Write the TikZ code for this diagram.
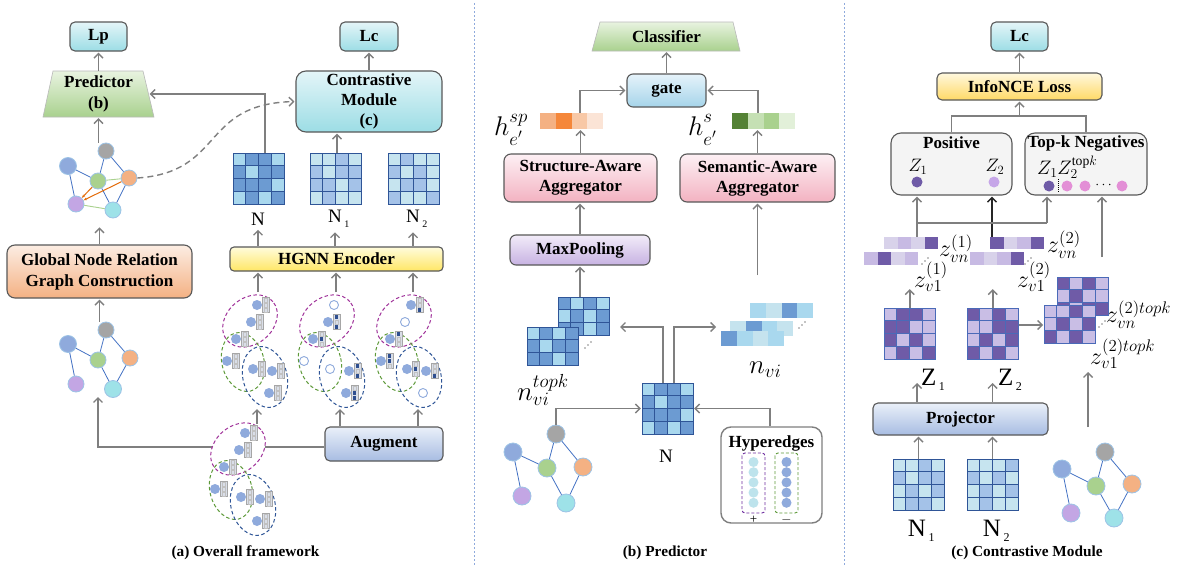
\documentclass[tikz,border=0pt]{standalone}
\usepackage{fix-cm}
\usepackage{fontspec}
\setmainfont{Liberation Serif}
\usetikzlibrary{arrows.meta,calc}
\definecolor{cAg}{HTML}{7F7F7F}
\definecolor{cBdr}{HTML}{595959}
\definecolor{cCyT}{HTML}{E4F5F8}
\definecolor{cCyB}{HTML}{9CDDE5}
\definecolor{cGrT}{HTML}{E8F3E0}
\definecolor{cGrB}{HTML}{A9D18E}
\definecolor{cOrT}{HTML}{FCEDE3}
\definecolor{cOrB}{HTML}{F4B183}
\definecolor{cYeT}{HTML}{FFFCDC}
\definecolor{cYeB}{HTML}{FFE665}
\definecolor{cBlT}{HTML}{EAF0F9}
\definecolor{cBlB}{HTML}{A7BCE2}
\definecolor{cGaT}{HTML}{E6F3FA}
\definecolor{cGaB}{HTML}{A5D4EA}
\definecolor{cPkT}{HTML}{FDF0F4}
\definecolor{cPkB}{HTML}{F3B2C1}
\definecolor{cPuT}{HTML}{F2ECF9}
\definecolor{cPuB}{HTML}{C7B2E2}
\definecolor{cInT}{HTML}{FFF8DE}
\definecolor{cInB}{HTML}{FFD966}
\definecolor{cPanel}{HTML}{F4F4F4}
\definecolor{cSep}{HTML}{8FAADC}
\definecolor{cNblue}{HTML}{8FAADC}
\definecolor{cNgray}{HTML}{A5A5A5}
\definecolor{cNgreen}{HTML}{A9D18E}
\definecolor{cNorange}{HTML}{F4B183}
\definecolor{cNpurple}{HTML}{C3A6E4}
\definecolor{cNcyan}{HTML}{9EE2E8}
\definecolor{cNbdr}{HTML}{9DC3E6}
\definecolor{cEdge}{HTML}{4472C4}
\definecolor{cEdgeG}{HTML}{A9D18E}
\definecolor{cEdgeO}{HTML}{E46C0A}
\definecolor{cMbdr}{HTML}{2F5597}
\definecolor{cMlt}{HTML}{A9D8EE}
\definecolor{cMmid}{HTML}{6C9BD2}
\definecolor{cNlt}{HTML}{C6E4EF}
\definecolor{cNmid}{HTML}{A4C2E8}
\definecolor{cVlt}{HTML}{C5E3EE}
\definecolor{cZdk}{HTML}{6F5BA7}
\definecolor{cZlt}{HTML}{C9BEE5}
\definecolor{cZl}{HTML}{D8D2EA}
\definecolor{cZm}{HTML}{C7BAE3}
\definecolor{cZbdr}{HTML}{4A6AB8}
\definecolor{cOa}{HTML}{F4B183}
\definecolor{cOb}{HTML}{F5873A}
\definecolor{cOc}{HTML}{F8C8A6}
\definecolor{cOd}{HTML}{FBE4D6}
\definecolor{cGa}{HTML}{548235}
\definecolor{cGb}{HTML}{C5E0B4}
\definecolor{cGc}{HTML}{A9D18E}
\definecolor{cGd}{HTML}{E2F0D9}
\definecolor{cHmag}{HTML}{A0329A}
\definecolor{cHgrn}{HTML}{5E9A3A}
\definecolor{cHblu}{HTML}{2F5597}
\definecolor{cBarG}{HTML}{A6A6A6}
\definecolor{cBarL}{HTML}{D9DEE8}
\definecolor{cBarD}{HTML}{2F4F8F}
\definecolor{cHpur}{HTML}{7030A0}
\definecolor{cHcy}{HTML}{BDE3EC}
\definecolor{cPink}{HTML}{E38FD6}
\definecolor{cZtwo}{HTML}{C6A6E8}

\newcommand\blab{\bfseries\fontsize{17}{21}\selectfont}
\newcommand\zf{\fontsize{24}{24}\selectfont}
\newcommand\hf{\fontsize{27}{27}\selectfont}
\newcommand\Nf{\fontsize{19}{19}\selectfont}
\newcommand\NNf{\fontsize{25}{25}\selectfont}
\newcommand\subn[2]{\rlap{\kern2.5pt\raisebox{-5pt}{\fontsize{#2}{#2}\selectfont #1}}}
\newcommand\hlab[1]{$h^{\raisebox{3pt}{$\scriptstyle #1$}}_{\raisebox{-3pt}{$\scriptstyle e'$}}$}

\newcommand\Grid[8]{%
  \foreach \v [count=\i from 0] in {#8}{%
    \pgfmathtruncatemacro\cc{mod(\i,#4)}%
    \pgfmathtruncatemacro\rr{div(\i,#4)}%
    \ifnum\v=1 \def\cf{#7}\else\def\cf{#6}\fi
    \filldraw[fill=\cf, draw=#1, line width=0.9pt] ({#2+\cc*#5},{#3+\rr*#5}) rectangle ++(#5,#5);
  }%
}
\newcommand\Emb[8]{%
  \fill[#5] (#1,#2) rectangle ++(#3,#4);
  \fill[#6] ({#1+#3},#2) rectangle ++(#3,#4);
  \fill[#7] ({#1+2*#3},#2) rectangle ++(#3,#4);
  \fill[#8] ({#1+3*#3},#2) rectangle ++(#3,#4);
}
\newcommand\Dd[2]{\fill[black] (#1,#2) circle[radius=0.65pt] ({#1+3},{#2-3}) circle[radius=0.65pt] ({#1+6},{#2-6}) circle[radius=0.65pt];}
\newcommand\HC[4]{%
  \ifnum#4=1 \fill[cBarD] ({#1+6.8},{#2-6.7+#3*5}) rectangle ++(3.4,3.4);%
  \else \draw[cBarG!70, line width=0.4pt] ({#1+6.8},{#2-6.7+#3*5}) rectangle ++(3.4,3.4);\fi
}
\newcommand\HN[5]{%
  \fill[cNblue] (#1,#2) circle[radius=5pt];
  \filldraw[fill=cBarL, draw=cBarG, line width=0.9pt] ({#1+5.5},{#2-7.5}) rectangle ({#1+12},{#2+7.5});
  \HC{#1}{#2}{0}{#3}\HC{#1}{#2}{1}{#4}\HC{#1}{#2}{2}{#5}%
}
\newcommand\HO[2]{\draw[cNblue, line width=0.9pt, fill=white] (#1,#2) circle[radius=4.5pt];}
\newcommand\Ells[2]{%
  \fill[white, shift={({#1+250},{#2+321})}, rotate=40] (0,0) ellipse[x radius=30pt, y radius=23pt];
  \fill[white, shift={({#1+243},{#2+362})}, rotate=15] (0,0) ellipse[x radius=21pt, y radius=30pt];
  \fill[white, shift={({#1+265},{#2+377})}, rotate=15] (0,0) ellipse[x radius=22pt, y radius=31pt];
  \draw[cHmag, hdash, shift={({#1+250},{#2+321})}, rotate=40] (0,0) ellipse[x radius=30pt, y radius=23pt];
  \draw[cHgrn, hdash, shift={({#1+243},{#2+362})}, rotate=15] (0,0) ellipse[x radius=21pt, y radius=30pt];
  \draw[cHblu, hdash, shift={({#1+265},{#2+377})}, rotate=15] (0,0) ellipse[x radius=22pt, y radius=31pt];
}

\begin{document}
\begin{tikzpicture}[x=1pt,y=-1pt,
  arr/.style={draw=cAg, line width=1.4pt, shorten >=1pt, -{Straight Barb[length=4.5pt,width=9pt]}},
  ln/.style={draw=cAg, line width=1.4pt},
  box/.style={draw=cBdr, line width=1.1pt, rounded corners=5pt, align=center, inner sep=0pt, font=\blab},
  gn/.style={circle, draw=cNbdr, line width=0.8pt, inner sep=0pt, minimum size=16pt},
  gnb/.style={gn, minimum size=18pt},
  ge/.style={draw=cEdge, line width=0.8pt},
  mat/.style={inner sep=0pt, minimum width=51pt, minimum height=51pt},
  hdash/.style={line width=1pt, dash pattern=on 3.5pt off 2.5pt},
  capt/.style={font=\bfseries\fontsize{15.3}{17}\selectfont},
  mlab/.style={anchor=west, inner sep=0pt}
]
\useasboundingbox (0,0) rectangle (1184,565);
\fill[white] (0,0) rectangle (1184,565);
\draw[cSep, line width=0.8pt, dash pattern=on 2pt off 2pt] (474,3) -- (474,565);
\draw[cSep, line width=0.8pt, dash pattern=on 2pt off 2pt] (844,3) -- (844,565);

%%%%%%%%%%%%%%%% (a) Overall framework
\node[box, top color=cCyT, bottom color=cCyB, minimum width=57pt, minimum height=29pt] (Lp) at (98.5,36.5) {Lp};
\shadedraw[top color=cGrT, bottom color=cGrB, draw=gray!55, line width=0.6pt] (43,117) -- (53,71) -- (143,71) -- (154,117) -- cycle;
\node[font=\blab, align=center, inner sep=0pt, minimum width=100pt, minimum height=46pt] (pred) at (98.5,94) {Predictor\\(b)};
\draw[arr] (pred.north) -- (Lp.south);

\node[box, top color=cCyT, bottom color=cCyB, minimum width=58pt, minimum height=29pt] (Lc) at (369,36.5) {Lc};
\node[box, rounded corners=10pt, top color=cCyT, bottom color=cCyB, minimum width=146pt, minimum height=61pt, font=\bfseries\fontsize{17}{20}\selectfont] (cm) at (369,101.5) {Contrastive\\Module\\(c)};
\draw[arr] (cm.north) -- (Lc.south);

% top graph
\node[gn, fill=cNgray] (t1) at (106,151) {};
\node[gn, fill=cNblue, minimum size=17pt] (t2) at (68,166) {};
\node[gn, fill=cNgreen] (t3) at (98,181) {};
\node[gn, fill=cNorange] (t4) at (129,178) {};
\node[gn, fill=cNpurple] (t5) at (76,204) {};
\node[gn, fill=cNcyan] (t6) at (113,210) {};
\draw[ge] (t2) -- (t3);
\draw[ge] (t2) -- (t5);
\draw[ge] (t1) -- (t3);
\draw[ge] (t1) -- (t4);
\draw[ge] (t3) -- (t6);
\draw[ge] (t4) -- (t6);
\draw[cEdgeG, line width=0.9pt] (t3) -- (t4);
\draw[cEdgeG, line width=0.9pt] (t5) -- (t6);
\draw[cEdgeO, line width=1pt, -{Stealth[length=3.5pt]}] (t3) -- (t5);
\draw[cEdgeO, line width=1pt, -{Stealth[length=3.5pt]}] (t4) -- (t5);
\draw[arr] (pred.south |- t1.north) -- (pred.south);
\draw[cAg, line width=1.4pt, dash pattern=on 6pt off 4pt, shorten >=1pt, -{Straight Barb[length=4.5pt,width=9pt]}] (t4.east) .. controls (225,172) and (200,104) .. (cm.west);

% matrices N, N1, N2
\Grid{cMbdr}{233}{153}{4}{12.75}{cMlt}{cMmid}{0,1,1,0,1,0,1,1,1,1,1,0,0,1,0,1}
\node[mat] (mN) at (258.5,178.5) {};
\Grid{cMbdr}{310}{153}{4}{12.75}{cNlt}{cNmid}{0,0,1,0,1,0,1,1,1,1,0,1,0,1,0,0}
\node[mat] (mNa) at (335.5,178.5) {};
\Grid{cMbdr}{388}{153}{4}{12.75}{cNlt}{cNmid}{0,1,0,0,1,0,1,0,0,1,1,0,1,0,0,1}
\node[mat] (mNb) at (413.5,178.5) {};
\draw[arr] ([xshift=6.5pt]mN.north) |- (pred.east);
\draw[arr] ([xshift=1.5pt]mNa.north) -- ([xshift=1.5pt]mNa.north |- cm.south);

\node[font=\Nf] (lN) at (258,219) {N};
\node[font=\Nf] (lNa) at (335,219) {N\subn{1}{10}};
\node[font=\Nf] (lNb) at (413,219) {N\subn{2}{10}};

\node[box, rounded corners=4pt, top color=cYeT, bottom color=cYeB, minimum width=213pt, minimum height=24pt] (hg) at (336.5,259) {HGNN Encoder};
\draw[arr] (hg.north -| lN) -- (lN.south);
\draw[arr] (hg.north -| lNa) -- (lNa.south);
\draw[arr] (hg.north -| lNb) -- (lNb.south);
\draw[arr] (258,292) -- (hg.south -| 258,0);
\draw[arr] (336,292) -- (hg.south -| 336,0);
\draw[arr] (413,292) -- (hg.south -| 413,0);

% hypergraph clusters
\Ells{0}{0}
\Ells{77}{0}
\Ells{154}{0}
\HN{257}{305}{0}{0}{0}\HN{251}{322}{0}{0}{0}\HN{236}{339}{0}{0}{0}\HN{227}{361}{0}{0}{0}
\HN{253}{369}{0}{0}{0}\HN{272}{371}{0}{0}{0}\HN{269}{393}{0}{0}{0}
\HO{334}{305}\HN{328}{322}{1}{0}{1}\HN{313}{339}{0}{1}{0}\HO{304}{361}
\HO{330}{369}\HN{349}{371}{1}{0}{1}\HN{346}{393}{0}{1}{1}
\HN{411}{305}{0}{0}{1}\HO{405}{322}\HN{390}{339}{1}{0}{0}\HN{381}{361}{1}{1}{0}
\HN{407}{369}{0}{1}{0}\HN{426}{371}{0}{0}{1}\HO{423}{393}

% Global node relation
\node[box, rounded corners=8pt, top color=cOrT, bottom color=cOrB, minimum width=185pt, minimum height=53pt] (gnr) at (99.5,271.5) {Global Node Relation\\Graph Construction};
\draw[arr] (gnr.north) -- ++(0,-18);

% bottom graph
\node[gn, fill=cNgray] (b1) at (106,330) {};
\node[gn, fill=cNblue, minimum size=17pt] (b2) at (68,344) {};
\node[gn, fill=cNgreen] (b3) at (98,360) {};
\node[gn, fill=cNorange] (b4) at (130,358) {};
\node[gn, fill=cNpurple] (b5) at (76,384) {};
\node[gn, fill=cNcyan, minimum size=17pt] (b6) at (113,389) {};
\draw[ge] (b2) -- (b3);
\draw[ge] (b2) -- (b5);
\draw[ge] (b1) -- (b3);
\draw[ge] (b1) -- (b4);
\draw[ge] (b3) -- (b6);
\draw[ge] (b4) -- (b6);
\draw[arr] (gnr.south |- b1.north) -- (gnr.south);

% augment
\node[box, top color=cBlT, bottom color=cBlB, minimum width=118pt, minimum height=34pt] (aug) at (384,444) {Augment};
\draw[arr] ([yshift=-3pt]aug.west) -- (98,447) -- (98,396);
\draw[arr] (aug.north -| 340,0) -- (340,408);
\draw[arr] (aug.north -| 418,0) -- (418,408);
\Ells{-12}{128}
\HN{245}{433}{0}{0}{0}\HN{239}{450}{0}{0}{0}\HN{224}{467}{0}{0}{0}\HN{215}{489}{0}{0}{0}
\HN{241}{497}{0}{0}{0}\HN{260}{499}{0}{0}{0}\HN{257}{521}{0}{0}{0}
\draw[arr] (257,424) -- (257,408);

\node[capt] at (245.5,553) {(a) Overall framework};

%%%%%%%%%%%%%%%% (b) Predictor
\shadedraw[top color=cGrT, bottom color=cGrB, draw=gray!55, line width=0.6pt] (592,51) -- (600,22) -- (733,22) -- (740,51) -- cycle;
\node[font=\blab, inner sep=0pt, minimum width=140pt, minimum height=29pt] (cls) at (666.5,36.5) {Classifier};
\node[box, rounded corners=6pt, top color=cGaT, bottom color=cGaB, minimum width=79pt, minimum height=33pt] (gate) at (666.5,90.5) {gate};
\draw[arr] (gate.north) -- (cls.south);

\Emb{540}{113}{15.75}{16}{cOa}{cOb}{cOc}{cOd}
\node[inner sep=0pt, minimum width=63pt, minimum height=16pt] (hsp) at (571.5,121) {};
\Emb{732}{113}{15.75}{16}{cGa}{cGb}{cGc}{cGd}
\node[inner sep=0pt, minimum width=63pt, minimum height=16pt] (hs) at (763.5,121) {};
\draw[arr] ([xshift=8.5pt]hsp.north) |- (gate.west);
\draw[arr] ([xshift=-5.5pt]hs.north) |- (gate.east);
\node[mlab, font=\hf] at (494,130) {\hlab{sp}};
\node[mlab, font=\hf] at (688,130) {\hlab{s}};

\node[box, rounded corners=7pt, top color=cPkT, bottom color=cPkB, minimum width=153pt, minimum height=48pt, font=\bfseries\fontsize{17}{20}\selectfont] (saa) at (580.5,178) {Structure-Aware\\Aggregator};
\node[box, rounded corners=7pt, top color=cPkT, bottom color=cPkB, minimum width=155pt, minimum height=48pt, font=\bfseries\fontsize{17}{20}\selectfont] (sem) at (757.5,178) {Semantic-Aware\\Aggregator};
\draw[arr] (saa.north) -- (saa.north |- hsp.south);
\draw[arr] (sem.north) -- (sem.north |- hs.south);
\node[box, rounded corners=6pt, top color=cPuT, bottom color=cPuB, minimum width=140pt, minimum height=30pt] (mp) at (580,250) {MaxPooling};
\draw[arr] (mp.north) -- (mp.north |- saa.south);

\Grid{cMbdr}{558}{297}{4}{12.75}{cMlt}{cMmid}{1,0,1,0,0,1,0,1,1,1,0,1}
\Grid{cMbdr}{527}{327}{4}{12.75}{cMlt}{cMmid}{0,1,0,1,1,0,1,1,1,1,0,1}
\node[inner sep=0pt, minimum width=51pt, minimum height=38pt] (ntk) at (583.5,316) {};
\Dd{585}{348}
\node[mlab, font=\hf] at (517,390) {$n_{vi}^{topk}$};
\draw[arr] (ntk.north -| mp.south) -- (mp.south);

\Grid{cMbdr}{642}{383}{4}{12.75}{cMlt}{cMmid}{0,1,1,0,1,0,1,1,1,1,1,0,0,1,0,1}
\node[mat] (mC) at (667.5,408.5) {};
\node[font=\Nf] (lC) at (666,456) {N};
\draw[arr] ([xshift=-4.5pt]mC.north) |- (619,327);
\draw[arr] ([xshift=6.5pt]mC.north) |- (717,327);

\Emb{750}{303}{15.75}{15}{cMlt}{cVlt}{cMmid}{cMlt}
\Emb{730}{321}{15.75}{15}{cVlt}{cMmid}{cMlt}{cVlt}
\Emb{721}{331}{15.75}{15}{cMmid}{cMlt}{cVlt}{cMlt}
\node[inner sep=0pt, minimum width=92pt, minimum height=43pt] (nvi) at (767,324.5) {};
\Dd{799}{328}
\node[mlab, font=\hf] at (749,370) {$n_{vi}$};
\draw[arr] (sem.south |- 0,275) -- (sem.south);

% middle graph
\node[gnb, fill=cNgray] (m1) at (556,434) {};
\node[gnb, fill=cNblue] (m2) at (513,452) {};
\node[gnb, fill=cNgreen] (m3) at (547,468) {};
\node[gnb, fill=cNorange] (m4) at (583,467) {};
\node[gnb, fill=cNpurple] (m5) at (522,496) {};
\node[gnb, fill=cNcyan] (m6) at (566,503) {};
\draw[ge] (m2) -- (m3);
\draw[ge] (m2) -- (m5);
\draw[ge] (m1) -- (m3);
\draw[ge] (m1) -- (m4);
\draw[ge] (m3) -- (m6);
\draw[ge] (m4) -- (m6);
\draw[arr] (m1.north) |- (mC.west);

\node[draw=cAg, line width=1.4pt, rounded corners=10pt, fill=white, minimum width=101pt, minimum height=96pt] (hyp) at (771.5,475) {};
\node[font=\blab] at (771.5,443) {Hyperedges};
\draw[arr] ([xshift=-1.5pt]hyp.north) |- (mC.east);
\draw[cHpur, line width=0.9pt, dash pattern=on 3pt off 2pt, rounded corners=3pt] (742,453) rectangle (765,513);
\draw[cHgrn, line width=0.9pt, dash pattern=on 3pt off 2pt, rounded corners=3pt] (775,453) rectangle (798,513);
\foreach \k in {0,...,4}{
  \fill[cHcy] (753.5,{462+10.2*\k}) circle[radius=5pt];
  \fill[cNblue] (786.5,{462+10.2*\k}) circle[radius=5pt];
}
\node[font=\fontsize{13}{13}\selectfont, inner sep=0pt] at (753.5,520) {+};
\node[font=\fontsize{13}{13}\selectfont, inner sep=0pt] at (786.5,520) {$-$};

\node[capt] at (665,553) {(b) Predictor};

%%%%%%%%%%%%%%%% (c) Contrastive module
\node[box, top color=cCyT, bottom color=cCyB, minimum width=57pt, minimum height=29pt] (Lcc) at (1019.5,36.5) {Lc};
\node[box, top color=cInT, bottom color=cInB, minimum width=165pt, minimum height=27pt] (info) at (1019.5,86.5) {InfoNCE Loss};
\draw[arr] (info.north) -- (Lcc.south);
\node[box, rounded corners=10pt, fill=cPanel, minimum width=121pt, minimum height=62pt] (pos) at (951.5,164) {};
\node[box, rounded corners=10pt, fill=cPanel, minimum width=122pt, minimum height=62pt] (neg) at (1086,164) {};
\draw[ln] (pos.north) -- (951.5,116) -- (1086,116) -- (neg.north);
\draw[arr] (info.south |- 0,116) -- (info.south);
\node[font=\blab] at (951.5,143) {Positive};
\node[font=\blab] at (1086,143) {Top-k Negatives};
\node[font=\fontsize{18}{18}\selectfont] at (918,167) {$Z_1$};
\node[font=\fontsize{18}{18}\selectfont] at (995,167) {$Z_2$};
\fill[cZdk] (917,182) circle[radius=5.5pt];
\fill[cZtwo] (994,182) circle[radius=5.5pt];
\node[mlab, font=\fontsize{19.5}{19.5}\selectfont] at (1037,167) {$Z_1Z_2^{\mathrm{top}k}$};
\fill[cZdk] (1049,186) circle[radius=5.5pt];
\draw[black, line width=0.6pt, dash pattern=on 1pt off 1pt] (1058,179) -- (1058,193);
\fill[cPink] (1067,186) circle[radius=5.5pt];
\fill[cPink] (1085,186) circle[radius=5.5pt];
\fill[cPink] (1122,186) circle[radius=5.5pt];
\node[inner sep=0pt, font=\fontsize{14}{14}\selectfont] at (1103.5,185) {$\cdots$};

% z embeddings
\Emb{884}{237}{13.5}{12}{cZl}{cZm}{cZl}{cZdk}
\Emb{864}{252}{13.5}{13}{cZm}{cZdk}{cZl}{cZm}
\Emb{990}{237}{13.5}{12}{cZdk}{cZl}{cZm}{cZdk}
\Emb{970}{252}{13.5}{13}{cZm}{cZl}{cZm}{cZdk}
\node[inner sep=0pt, minimum width=54pt, minimum height=12pt] (zo) at (911,243) {};
\node[inner sep=0pt, minimum width=54pt, minimum height=12pt] (zt) at (1017,243) {};
\Dd{922}{264}
\Dd{1025}{264}
\node[mlab, font=\zf] at (939,249) {$z_{vn}^{(1)}$};
\node[mlab, font=\zf] at (914,277) {$z_{v1}^{(1)}$};
\node[mlab, font=\zf] at (1047,245) {$z_{vn}^{(2)}$};
\node[mlab, font=\zf] at (1017,277) {$z_{v1}^{(2)}$};

\draw[arr] ([xshift=6pt]zo.north) -- ([xshift=6pt]zo.north |- pos.south);
\draw[arr, draw=black!85] ([xshift=-25pt]zt.north) -- ([xshift=-25pt]zt.north |- pos.south);
\draw[ln] (917,223) -- (1047,223);
\draw[arr] (1047,223) -- (neg.south -| 1047,0);
\draw[arr] (1102,257) -- (neg.south -| 1102,0);

% Z matrices
\Grid{cZbdr}{884}{308}{4}{12.9}{cZlt}{cZdk}{0,1,1,0,1,1,0,0,1,0,1,0,0,1,0,1}
\node[mat] (mZa) at (909.8,333.8) {};
\Grid{cZbdr}{967}{308}{4}{12.9}{cZlt}{cZdk}{1,0,1,0,0,0,1,1,0,1,0,1,1,0,1,0}
\node[mat] (mZb) at (992.8,333.8) {};
\Grid{cZbdr}{1057}{277}{4}{12.9}{cZlt}{cZdk}{1,0,1,0,0,1,0,0,1,0,1,1}
\Grid{cZbdr}{1044}{305}{4}{12.9}{cZlt}{cZdk}{0,0,1,0,0,1,0,1,1,0,1,0}
\node[inner sep=0pt, minimum width=51pt, minimum height=38pt] (ztk) at (1069.8,324) {};
\Dd{1099}{327}
\node[mlab, font=\zf] at (1106,315) {$z_{vn}^{(2)topk}$};
\node[mlab, font=\zf] at (1090,354) {$z_{v1}^{(2)topk}$};
\draw[arr] (mZa.north) -- ++(0,-20);
\draw[arr] (mZb.north) -- ++(0,-20);
\draw[arr] (mZb.east |- 0,325) -- (ztk.west |- 0,325);

\node[mlab, font=\NNf] at (921,380) {Z\subn{1}{12}};
\node[mlab, font=\NNf] at (998,380) {Z\subn{2}{12}};

\node[box, top color=cBlT, bottom color=cBlB, minimum width=175pt, minimum height=32pt] (proj) at (960.5,419) {Projector};
\draw[arr] (proj.north -| 917,0) -- (917,382);
\draw[arr] (proj.north -| 992.5,0) -- (992.5,382);

\Grid{cMbdr}{893}{459}{4}{12.75}{cNlt}{cNmid}{0,0,1,0,1,0,1,1,0,1,0,1,0,1,1,0}
\node[mat] (mRa) at (918.5,484.5) {};
\Grid{cMbdr}{967}{459}{4}{12.75}{cNlt}{cNmid}{0,0,0,1,1,0,1,0,0,1,0,1,0,1,0,0}
\node[mat] (mRb) at (992.5,484.5) {};
\draw[arr] (mRa.north) -- (mRa.north |- proj.south);
\draw[arr] (mRb.north) -- (mRb.north |- proj.south);
\node[font=\NNf] at (917,531) {N\subn{1}{12}};
\node[font=\NNf] at (992,531) {N\subn{2}{12}};

% right graph
\node[gnb, fill=cNgray] (r1) at (1105,452) {};
\node[gnb, fill=cNblue] (r2) at (1062,469) {};
\node[gnb, fill=cNgreen] (r3) at (1096,486) {};
\node[gnb, fill=cNorange] (r4) at (1132,484) {};
\node[gnb, fill=cNpurple] (r5) at (1071,513) {};
\node[gnb, fill=cNcyan] (r6) at (1114,518) {};
\draw[ge] (r2) -- (r3);
\draw[ge] (r2) -- (r5);
\draw[ge] (r1) -- (r3);
\draw[ge] (r1) -- (r4);
\draw[ge] (r3) -- (r6);
\draw[ge] (r4) -- (r6);
\draw[arr] (1088,427) -- (1088,371);

\node[capt] at (1027,553) {(c) Contrastive Module};
\end{tikzpicture}
\end{document}
